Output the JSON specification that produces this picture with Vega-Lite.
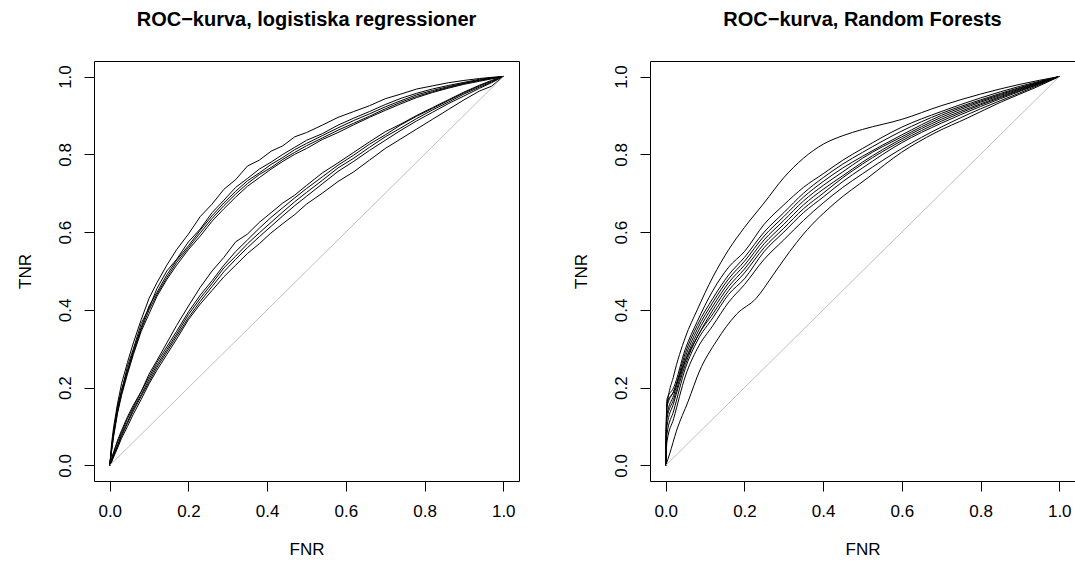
{
"$schema": "https://vega.github.io/schema/vega-lite/v6.json",
"background": "white",
"padding": {"left": 15, "top": 9, "right": 0, "bottom": 0},
"spacing": 131,
"bounds": "flush",
"config": {
  "view": {"stroke": "black", "strokeWidth": 1},
  "font": "Liberation Sans",
  "axis": {"domain": false, "grid": false, "tickColor": "black", "tickSize": 10, "tickWidth": 1, "labelFontSize": 17, "labelColor": "black", "labelFont": "Liberation Sans", "titleFont": "Liberation Sans", "titleFontSize": 17, "titleFontWeight": "normal", "titleColor": "black", "labelFlush": false, "labelOverlap": false},
  "axisX": {"labelPadding": 12, "titlePadding": 22},
  "axisY": {"labelAngle": 270, "labelAlign": "center", "labelBaseline": "bottom", "labelPadding": 10, "titlePadding": 22},
  "title": {"fontSize": 20, "fontWeight": "bold", "font": "Liberation Sans", "color": "black", "anchor": "middle", "offset": 31}
},
"datasets": {
"D": [{"x":0,"y":0},{"x":1,"y":1}],
"L": [
{"c":"U1","x":0,"y":0},{"c":"U1","x":0.005,"y":0.06},{"c":"U1","x":0.01,"y":0.10},{"c":"U1","x":0.02,"y":0.16},{"c":"U1","x":0.03,"y":0.21},{"c":"U1","x":0.045,"y":0.265},{"c":"U1","x":0.06,"y":0.315},{"c":"U1","x":0.08,"y":0.375},{"c":"U1","x":0.10,"y":0.43},{"c":"U1","x":0.12,"y":0.47},{"c":"U1","x":0.145,"y":0.515},{"c":"U1","x":0.17,"y":0.555},{"c":"U1","x":0.20,"y":0.595},{"c":"U1","x":0.23,"y":0.64},{"c":"U1","x":0.26,"y":0.672},{"c":"U1","x":0.29,"y":0.71},{"c":"U1","x":0.32,"y":0.735},{"c":"U1","x":0.35,"y":0.77},{"c":"U1","x":0.38,"y":0.785},{"c":"U1","x":0.41,"y":0.808},{"c":"U1","x":0.44,"y":0.822},{"c":"U1","x":0.47,"y":0.845},{"c":"U1","x":0.50,"y":0.856},{"c":"U1","x":0.54,"y":0.875},{"c":"U1","x":0.58,"y":0.895},{"c":"U1","x":0.62,"y":0.91},{"c":"U1","x":0.66,"y":0.925},{"c":"U1","x":0.70,"y":0.943},{"c":"U1","x":0.74,"y":0.955},{"c":"U1","x":0.78,"y":0.968},{"c":"U1","x":0.82,"y":0.976},{"c":"U1","x":0.86,"y":0.984},{"c":"U1","x":0.90,"y":0.99},{"c":"U1","x":0.94,"y":0.995},{"c":"U1","x":0.97,"y":0.998},{"c":"U1","x":1,"y":1},
{"c":"U2","x":0,"y":0},{"c":"U2","x":0.005,"y":0.05},{"c":"U2","x":0.01,"y":0.085},{"c":"U2","x":0.02,"y":0.155},{"c":"U2","x":0.03,"y":0.19},{"c":"U2","x":0.045,"y":0.255},{"c":"U2","x":0.06,"y":0.30},{"c":"U2","x":0.08,"y":0.365},{"c":"U2","x":0.10,"y":0.405},{"c":"U2","x":0.12,"y":0.455},{"c":"U2","x":0.145,"y":0.50},{"c":"U2","x":0.17,"y":0.53},{"c":"U2","x":0.20,"y":0.575},{"c":"U2","x":0.23,"y":0.608},{"c":"U2","x":0.26,"y":0.65},{"c":"U2","x":0.29,"y":0.682},{"c":"U2","x":0.32,"y":0.715},{"c":"U2","x":0.35,"y":0.738},{"c":"U2","x":0.38,"y":0.762},{"c":"U2","x":0.41,"y":0.78},{"c":"U2","x":0.44,"y":0.80},{"c":"U2","x":0.47,"y":0.818},{"c":"U2","x":0.50,"y":0.836},{"c":"U2","x":0.54,"y":0.853},{"c":"U2","x":0.58,"y":0.875},{"c":"U2","x":0.62,"y":0.893},{"c":"U2","x":0.66,"y":0.91},{"c":"U2","x":0.70,"y":0.928},{"c":"U2","x":0.74,"y":0.944},{"c":"U2","x":0.78,"y":0.957},{"c":"U2","x":0.82,"y":0.968},{"c":"U2","x":0.86,"y":0.977},{"c":"U2","x":0.90,"y":0.985},{"c":"U2","x":0.94,"y":0.993},{"c":"U2","x":0.97,"y":0.997},{"c":"U2","x":1,"y":1},
{"c":"U3","x":0,"y":0},{"c":"U3","x":0.005,"y":0.045},{"c":"U3","x":0.01,"y":0.09},{"c":"U3","x":0.02,"y":0.145},{"c":"U3","x":0.03,"y":0.195},{"c":"U3","x":0.045,"y":0.245},{"c":"U3","x":0.06,"y":0.295},{"c":"U3","x":0.08,"y":0.355},{"c":"U3","x":0.10,"y":0.41},{"c":"U3","x":0.12,"y":0.445},{"c":"U3","x":0.145,"y":0.49},{"c":"U3","x":0.17,"y":0.528},{"c":"U3","x":0.20,"y":0.565},{"c":"U3","x":0.23,"y":0.605},{"c":"U3","x":0.26,"y":0.642},{"c":"U3","x":0.29,"y":0.675},{"c":"U3","x":0.32,"y":0.705},{"c":"U3","x":0.35,"y":0.732},{"c":"U3","x":0.38,"y":0.752},{"c":"U3","x":0.41,"y":0.774},{"c":"U3","x":0.44,"y":0.792},{"c":"U3","x":0.47,"y":0.812},{"c":"U3","x":0.50,"y":0.828},{"c":"U3","x":0.54,"y":0.848},{"c":"U3","x":0.58,"y":0.868},{"c":"U3","x":0.62,"y":0.887},{"c":"U3","x":0.66,"y":0.904},{"c":"U3","x":0.70,"y":0.922},{"c":"U3","x":0.74,"y":0.938},{"c":"U3","x":0.78,"y":0.953},{"c":"U3","x":0.82,"y":0.964},{"c":"U3","x":0.86,"y":0.974},{"c":"U3","x":0.90,"y":0.983},{"c":"U3","x":0.94,"y":0.991},{"c":"U3","x":0.97,"y":0.996},{"c":"U3","x":1,"y":1},
{"c":"U4","x":0,"y":0},{"c":"U4","x":0.005,"y":0.04},{"c":"U4","x":0.01,"y":0.08},{"c":"U4","x":0.02,"y":0.14},{"c":"U4","x":0.03,"y":0.185},{"c":"U4","x":0.045,"y":0.24},{"c":"U4","x":0.06,"y":0.29},{"c":"U4","x":0.08,"y":0.35},{"c":"U4","x":0.10,"y":0.40},{"c":"U4","x":0.12,"y":0.44},{"c":"U4","x":0.145,"y":0.483},{"c":"U4","x":0.17,"y":0.522},{"c":"U4","x":0.20,"y":0.56},{"c":"U4","x":0.23,"y":0.598},{"c":"U4","x":0.26,"y":0.635},{"c":"U4","x":0.29,"y":0.668},{"c":"U4","x":0.32,"y":0.698},{"c":"U4","x":0.35,"y":0.725},{"c":"U4","x":0.38,"y":0.748},{"c":"U4","x":0.41,"y":0.766},{"c":"U4","x":0.44,"y":0.787},{"c":"U4","x":0.47,"y":0.805},{"c":"U4","x":0.50,"y":0.822},{"c":"U4","x":0.54,"y":0.842},{"c":"U4","x":0.58,"y":0.862},{"c":"U4","x":0.62,"y":0.88},{"c":"U4","x":0.66,"y":0.898},{"c":"U4","x":0.70,"y":0.917},{"c":"U4","x":0.74,"y":0.934},{"c":"U4","x":0.78,"y":0.949},{"c":"U4","x":0.82,"y":0.961},{"c":"U4","x":0.86,"y":0.972},{"c":"U4","x":0.90,"y":0.982},{"c":"U4","x":0.94,"y":0.99},{"c":"U4","x":0.97,"y":0.995},{"c":"U4","x":1,"y":1},
{"c":"U5","x":0,"y":0},{"c":"U5","x":0.005,"y":0.04},{"c":"U5","x":0.01,"y":0.075},{"c":"U5","x":0.02,"y":0.135},{"c":"U5","x":0.03,"y":0.18},{"c":"U5","x":0.045,"y":0.235},{"c":"U5","x":0.06,"y":0.285},{"c":"U5","x":0.08,"y":0.345},{"c":"U5","x":0.10,"y":0.39},{"c":"U5","x":0.12,"y":0.435},{"c":"U5","x":0.145,"y":0.478},{"c":"U5","x":0.17,"y":0.515},{"c":"U5","x":0.20,"y":0.555},{"c":"U5","x":0.23,"y":0.59},{"c":"U5","x":0.26,"y":0.628},{"c":"U5","x":0.29,"y":0.66},{"c":"U5","x":0.32,"y":0.69},{"c":"U5","x":0.35,"y":0.718},{"c":"U5","x":0.38,"y":0.74},{"c":"U5","x":0.41,"y":0.762},{"c":"U5","x":0.44,"y":0.782},{"c":"U5","x":0.47,"y":0.80},{"c":"U5","x":0.50,"y":0.815},{"c":"U5","x":0.54,"y":0.838},{"c":"U5","x":0.58,"y":0.856},{"c":"U5","x":0.62,"y":0.876},{"c":"U5","x":0.66,"y":0.895},{"c":"U5","x":0.70,"y":0.913},{"c":"U5","x":0.74,"y":0.93},{"c":"U5","x":0.78,"y":0.946},{"c":"U5","x":0.82,"y":0.959},{"c":"U5","x":0.86,"y":0.97},{"c":"U5","x":0.90,"y":0.98},{"c":"U5","x":0.94,"y":0.988},{"c":"U5","x":0.97,"y":0.994},{"c":"U5","x":1,"y":1},
{"c":"L1","x":0,"y":0},{"c":"L1","x":0.005,"y":0.02},{"c":"L1","x":0.01,"y":0.035},{"c":"L1","x":0.02,"y":0.065},{"c":"L1","x":0.03,"y":0.09},{"c":"L1","x":0.045,"y":0.125},{"c":"L1","x":0.06,"y":0.155},{"c":"L1","x":0.08,"y":0.19},{"c":"L1","x":0.10,"y":0.235},{"c":"L1","x":0.12,"y":0.27},{"c":"L1","x":0.145,"y":0.315},{"c":"L1","x":0.17,"y":0.36},{"c":"L1","x":0.20,"y":0.41},{"c":"L1","x":0.23,"y":0.458},{"c":"L1","x":0.26,"y":0.50},{"c":"L1","x":0.29,"y":0.535},{"c":"L1","x":0.32,"y":0.575},{"c":"L1","x":0.35,"y":0.595},{"c":"L1","x":0.38,"y":0.625},{"c":"L1","x":0.41,"y":0.65},{"c":"L1","x":0.44,"y":0.675},{"c":"L1","x":0.47,"y":0.695},{"c":"L1","x":0.50,"y":0.72},{"c":"L1","x":0.54,"y":0.752},{"c":"L1","x":0.58,"y":0.778},{"c":"L1","x":0.62,"y":0.805},{"c":"L1","x":0.66,"y":0.832},{"c":"L1","x":0.70,"y":0.858},{"c":"L1","x":0.74,"y":0.878},{"c":"L1","x":0.78,"y":0.9},{"c":"L1","x":0.82,"y":0.92},{"c":"L1","x":0.86,"y":0.94},{"c":"L1","x":0.90,"y":0.96},{"c":"L1","x":0.94,"y":0.978},{"c":"L1","x":0.97,"y":0.99},{"c":"L1","x":1,"y":1},
{"c":"L2","x":0,"y":0},{"c":"L2","x":0.005,"y":0.015},{"c":"L2","x":0.01,"y":0.032},{"c":"L2","x":0.02,"y":0.06},{"c":"L2","x":0.03,"y":0.085},{"c":"L2","x":0.045,"y":0.12},{"c":"L2","x":0.06,"y":0.15},{"c":"L2","x":0.08,"y":0.19},{"c":"L2","x":0.10,"y":0.228},{"c":"L2","x":0.12,"y":0.265},{"c":"L2","x":0.145,"y":0.305},{"c":"L2","x":0.17,"y":0.345},{"c":"L2","x":0.20,"y":0.395},{"c":"L2","x":0.23,"y":0.438},{"c":"L2","x":0.26,"y":0.475},{"c":"L2","x":0.29,"y":0.515},{"c":"L2","x":0.32,"y":0.55},{"c":"L2","x":0.35,"y":0.58},{"c":"L2","x":0.38,"y":0.61},{"c":"L2","x":0.41,"y":0.638},{"c":"L2","x":0.44,"y":0.663},{"c":"L2","x":0.47,"y":0.688},{"c":"L2","x":0.50,"y":0.712},{"c":"L2","x":0.54,"y":0.742},{"c":"L2","x":0.58,"y":0.772},{"c":"L2","x":0.62,"y":0.798},{"c":"L2","x":0.66,"y":0.826},{"c":"L2","x":0.70,"y":0.85},{"c":"L2","x":0.74,"y":0.876},{"c":"L2","x":0.78,"y":0.898},{"c":"L2","x":0.82,"y":0.918},{"c":"L2","x":0.86,"y":0.938},{"c":"L2","x":0.90,"y":0.958},{"c":"L2","x":0.94,"y":0.976},{"c":"L2","x":0.97,"y":0.988},{"c":"L2","x":1,"y":1},
{"c":"L3","x":0,"y":0},{"c":"L3","x":0.005,"y":0.012},{"c":"L3","x":0.01,"y":0.028},{"c":"L3","x":0.02,"y":0.052},{"c":"L3","x":0.03,"y":0.08},{"c":"L3","x":0.045,"y":0.112},{"c":"L3","x":0.06,"y":0.145},{"c":"L3","x":0.08,"y":0.182},{"c":"L3","x":0.10,"y":0.222},{"c":"L3","x":0.12,"y":0.258},{"c":"L3","x":0.145,"y":0.298},{"c":"L3","x":0.17,"y":0.338},{"c":"L3","x":0.20,"y":0.388},{"c":"L3","x":0.23,"y":0.43},{"c":"L3","x":0.26,"y":0.468},{"c":"L3","x":0.29,"y":0.508},{"c":"L3","x":0.32,"y":0.538},{"c":"L3","x":0.35,"y":0.57},{"c":"L3","x":0.38,"y":0.598},{"c":"L3","x":0.41,"y":0.625},{"c":"L3","x":0.44,"y":0.652},{"c":"L3","x":0.47,"y":0.678},{"c":"L3","x":0.50,"y":0.702},{"c":"L3","x":0.54,"y":0.733},{"c":"L3","x":0.58,"y":0.765},{"c":"L3","x":0.62,"y":0.79},{"c":"L3","x":0.66,"y":0.818},{"c":"L3","x":0.70,"y":0.845},{"c":"L3","x":0.74,"y":0.868},{"c":"L3","x":0.78,"y":0.892},{"c":"L3","x":0.82,"y":0.914},{"c":"L3","x":0.86,"y":0.934},{"c":"L3","x":0.90,"y":0.955},{"c":"L3","x":0.94,"y":0.973},{"c":"L3","x":0.97,"y":0.986},{"c":"L3","x":1,"y":1},
{"c":"L4","x":0,"y":0},{"c":"L4","x":0.005,"y":0.01},{"c":"L4","x":0.01,"y":0.025},{"c":"L4","x":0.02,"y":0.05},{"c":"L4","x":0.03,"y":0.075},{"c":"L4","x":0.045,"y":0.108},{"c":"L4","x":0.06,"y":0.14},{"c":"L4","x":0.08,"y":0.178},{"c":"L4","x":0.10,"y":0.215},{"c":"L4","x":0.12,"y":0.252},{"c":"L4","x":0.145,"y":0.292},{"c":"L4","x":0.17,"y":0.332},{"c":"L4","x":0.20,"y":0.38},{"c":"L4","x":0.23,"y":0.422},{"c":"L4","x":0.26,"y":0.46},{"c":"L4","x":0.29,"y":0.498},{"c":"L4","x":0.32,"y":0.53},{"c":"L4","x":0.35,"y":0.56},{"c":"L4","x":0.38,"y":0.588},{"c":"L4","x":0.41,"y":0.615},{"c":"L4","x":0.44,"y":0.642},{"c":"L4","x":0.47,"y":0.668},{"c":"L4","x":0.50,"y":0.692},{"c":"L4","x":0.54,"y":0.724},{"c":"L4","x":0.58,"y":0.756},{"c":"L4","x":0.62,"y":0.782},{"c":"L4","x":0.66,"y":0.81},{"c":"L4","x":0.70,"y":0.836},{"c":"L4","x":0.74,"y":0.862},{"c":"L4","x":0.78,"y":0.886},{"c":"L4","x":0.82,"y":0.908},{"c":"L4","x":0.86,"y":0.93},{"c":"L4","x":0.90,"y":0.95},{"c":"L4","x":0.94,"y":0.97},{"c":"L4","x":0.97,"y":0.984},{"c":"L4","x":1,"y":1},
{"c":"L5","x":0,"y":0},{"c":"L5","x":0.005,"y":0.01},{"c":"L5","x":0.01,"y":0.022},{"c":"L5","x":0.02,"y":0.045},{"c":"L5","x":0.03,"y":0.07},{"c":"L5","x":0.045,"y":0.1},{"c":"L5","x":0.06,"y":0.132},{"c":"L5","x":0.08,"y":0.17},{"c":"L5","x":0.10,"y":0.21},{"c":"L5","x":0.12,"y":0.245},{"c":"L5","x":0.145,"y":0.285},{"c":"L5","x":0.17,"y":0.325},{"c":"L5","x":0.20,"y":0.375},{"c":"L5","x":0.23,"y":0.415},{"c":"L5","x":0.26,"y":0.45},{"c":"L5","x":0.29,"y":0.485},{"c":"L5","x":0.32,"y":0.515},{"c":"L5","x":0.35,"y":0.545},{"c":"L5","x":0.38,"y":0.57},{"c":"L5","x":0.41,"y":0.598},{"c":"L5","x":0.44,"y":0.622},{"c":"L5","x":0.47,"y":0.645},{"c":"L5","x":0.50,"y":0.672},{"c":"L5","x":0.54,"y":0.70},{"c":"L5","x":0.58,"y":0.73},{"c":"L5","x":0.62,"y":0.755},{"c":"L5","x":0.66,"y":0.785},{"c":"L5","x":0.70,"y":0.815},{"c":"L5","x":0.74,"y":0.84},{"c":"L5","x":0.78,"y":0.865},{"c":"L5","x":0.82,"y":0.89},{"c":"L5","x":0.86,"y":0.915},{"c":"L5","x":0.90,"y":0.94},{"c":"L5","x":0.94,"y":0.963},{"c":"L5","x":0.97,"y":0.975},{"c":"L5","x":1,"y":1}
],
"R": [
{"c":"R1","x":0,"y":0},{"c":"R1","x":0.003,"y":0.15},{"c":"R1","x":0.02,"y":0.23},{"c":"R1","x":0.05,"y":0.33},{"c":"R1","x":0.08,"y":0.40},{"c":"R1","x":0.12,"y":0.485},{"c":"R1","x":0.16,"y":0.555},{"c":"R1","x":0.2,"y":0.612},{"c":"R1","x":0.25,"y":0.675},{"c":"R1","x":0.3,"y":0.74},{"c":"R1","x":0.35,"y":0.79},{"c":"R1","x":0.4,"y":0.826},{"c":"R1","x":0.45,"y":0.848},{"c":"R1","x":0.5,"y":0.864},{"c":"R1","x":0.6,"y":0.89},{"c":"R1","x":0.7,"y":0.925},{"c":"R1","x":0.8,"y":0.955},{"c":"R1","x":0.9,"y":0.98},{"c":"R1","x":1,"y":1},
{"c":"R2","x":0,"y":0},{"c":"R2","x":0.003,"y":0.17},{"c":"R2","x":0.02,"y":0.20},{"c":"R2","x":0.05,"y":0.30},{"c":"R2","x":0.08,"y":0.37},{"c":"R2","x":0.12,"y":0.45},{"c":"R2","x":0.16,"y":0.51},{"c":"R2","x":0.2,"y":0.55},{"c":"R2","x":0.25,"y":0.62},{"c":"R2","x":0.3,"y":0.67},{"c":"R2","x":0.35,"y":0.715},{"c":"R2","x":0.4,"y":0.75},{"c":"R2","x":0.45,"y":0.785},{"c":"R2","x":0.5,"y":0.815},{"c":"R2","x":0.6,"y":0.87},{"c":"R2","x":0.7,"y":0.91},{"c":"R2","x":0.8,"y":0.945},{"c":"R2","x":0.9,"y":0.975},{"c":"R2","x":1,"y":1},
{"c":"R3","x":0,"y":0},{"c":"R3","x":0.003,"y":0.16},{"c":"R3","x":0.02,"y":0.19},{"c":"R3","x":0.05,"y":0.29},{"c":"R3","x":0.08,"y":0.36},{"c":"R3","x":0.12,"y":0.43},{"c":"R3","x":0.16,"y":0.49},{"c":"R3","x":0.2,"y":0.535},{"c":"R3","x":0.25,"y":0.60},{"c":"R3","x":0.3,"y":0.65},{"c":"R3","x":0.35,"y":0.70},{"c":"R3","x":0.4,"y":0.74},{"c":"R3","x":0.45,"y":0.775},{"c":"R3","x":0.5,"y":0.805},{"c":"R3","x":0.6,"y":0.86},{"c":"R3","x":0.7,"y":0.905},{"c":"R3","x":0.8,"y":0.94},{"c":"R3","x":0.9,"y":0.972},{"c":"R3","x":1,"y":1},
{"c":"R4","x":0,"y":0},{"c":"R4","x":0.003,"y":0.13},{"c":"R4","x":0.02,"y":0.18},{"c":"R4","x":0.05,"y":0.28},{"c":"R4","x":0.08,"y":0.35},{"c":"R4","x":0.12,"y":0.42},{"c":"R4","x":0.16,"y":0.48},{"c":"R4","x":0.2,"y":0.525},{"c":"R4","x":0.25,"y":0.59},{"c":"R4","x":0.3,"y":0.64},{"c":"R4","x":0.35,"y":0.69},{"c":"R4","x":0.4,"y":0.73},{"c":"R4","x":0.45,"y":0.765},{"c":"R4","x":0.5,"y":0.795},{"c":"R4","x":0.6,"y":0.85},{"c":"R4","x":0.7,"y":0.90},{"c":"R4","x":0.8,"y":0.937},{"c":"R4","x":0.9,"y":0.97},{"c":"R4","x":1,"y":1},
{"c":"R5","x":0,"y":0},{"c":"R5","x":0.003,"y":0.12},{"c":"R5","x":0.02,"y":0.17},{"c":"R5","x":0.05,"y":0.27},{"c":"R5","x":0.08,"y":0.34},{"c":"R5","x":0.12,"y":0.41},{"c":"R5","x":0.16,"y":0.47},{"c":"R5","x":0.2,"y":0.515},{"c":"R5","x":0.25,"y":0.58},{"c":"R5","x":0.3,"y":0.63},{"c":"R5","x":0.35,"y":0.68},{"c":"R5","x":0.4,"y":0.72},{"c":"R5","x":0.45,"y":0.755},{"c":"R5","x":0.5,"y":0.79},{"c":"R5","x":0.6,"y":0.845},{"c":"R5","x":0.7,"y":0.895},{"c":"R5","x":0.8,"y":0.934},{"c":"R5","x":0.9,"y":0.968},{"c":"R5","x":1,"y":1},
{"c":"R6","x":0,"y":0},{"c":"R6","x":0.003,"y":0.15},{"c":"R6","x":0.02,"y":0.19},{"c":"R6","x":0.05,"y":0.27},{"c":"R6","x":0.08,"y":0.33},{"c":"R6","x":0.12,"y":0.40},{"c":"R6","x":0.16,"y":0.46},{"c":"R6","x":0.2,"y":0.505},{"c":"R6","x":0.25,"y":0.57},{"c":"R6","x":0.3,"y":0.62},{"c":"R6","x":0.35,"y":0.67},{"c":"R6","x":0.4,"y":0.71},{"c":"R6","x":0.45,"y":0.745},{"c":"R6","x":0.5,"y":0.78},{"c":"R6","x":0.6,"y":0.84},{"c":"R6","x":0.7,"y":0.89},{"c":"R6","x":0.8,"y":0.93},{"c":"R6","x":0.9,"y":0.966},{"c":"R6","x":1,"y":1},
{"c":"R7","x":0,"y":0},{"c":"R7","x":0.003,"y":0.10},{"c":"R7","x":0.02,"y":0.16},{"c":"R7","x":0.05,"y":0.26},{"c":"R7","x":0.08,"y":0.33},{"c":"R7","x":0.12,"y":0.39},{"c":"R7","x":0.16,"y":0.45},{"c":"R7","x":0.2,"y":0.495},{"c":"R7","x":0.25,"y":0.56},{"c":"R7","x":0.3,"y":0.61},{"c":"R7","x":0.35,"y":0.66},{"c":"R7","x":0.4,"y":0.70},{"c":"R7","x":0.45,"y":0.74},{"c":"R7","x":0.5,"y":0.775},{"c":"R7","x":0.6,"y":0.835},{"c":"R7","x":0.7,"y":0.885},{"c":"R7","x":0.8,"y":0.927},{"c":"R7","x":0.9,"y":0.964},{"c":"R7","x":1,"y":1},
{"c":"R8","x":0,"y":0},{"c":"R8","x":0.003,"y":0.08},{"c":"R8","x":0.02,"y":0.14},{"c":"R8","x":0.05,"y":0.25},{"c":"R8","x":0.08,"y":0.32},{"c":"R8","x":0.12,"y":0.38},{"c":"R8","x":0.16,"y":0.44},{"c":"R8","x":0.2,"y":0.48},{"c":"R8","x":0.25,"y":0.55},{"c":"R8","x":0.3,"y":0.60},{"c":"R8","x":0.35,"y":0.65},{"c":"R8","x":0.4,"y":0.69},{"c":"R8","x":0.45,"y":0.73},{"c":"R8","x":0.5,"y":0.765},{"c":"R8","x":0.6,"y":0.83},{"c":"R8","x":0.7,"y":0.88},{"c":"R8","x":0.8,"y":0.923},{"c":"R8","x":0.9,"y":0.962},{"c":"R8","x":1,"y":1},
{"c":"R9","x":0,"y":0},{"c":"R9","x":0.003,"y":0.06},{"c":"R9","x":0.02,"y":0.12},{"c":"R9","x":0.05,"y":0.23},{"c":"R9","x":0.08,"y":0.30},{"c":"R9","x":0.12,"y":0.36},{"c":"R9","x":0.16,"y":0.42},{"c":"R9","x":0.2,"y":0.465},{"c":"R9","x":0.25,"y":0.53},{"c":"R9","x":0.3,"y":0.58},{"c":"R9","x":0.35,"y":0.63},{"c":"R9","x":0.4,"y":0.675},{"c":"R9","x":0.45,"y":0.715},{"c":"R9","x":0.5,"y":0.75},{"c":"R9","x":0.6,"y":0.815},{"c":"R9","x":0.7,"y":0.87},{"c":"R9","x":0.8,"y":0.917},{"c":"R9","x":0.9,"y":0.958},{"c":"R9","x":1,"y":1},
{"c":"R10","x":0,"y":0},{"c":"R10","x":0.01,"y":0.03},{"c":"R10","x":0.027,"y":0.088},{"c":"R10","x":0.057,"y":0.165},{"c":"R10","x":0.086,"y":0.243},{"c":"R10","x":0.129,"y":0.32},{"c":"R10","x":0.18,"y":0.389},{"c":"R10","x":0.23,"y":0.43},{"c":"R10","x":0.273,"y":0.49},{"c":"R10","x":0.315,"y":0.55},{"c":"R10","x":0.35,"y":0.595},{"c":"R10","x":0.43,"y":0.675},{"c":"R10","x":0.514,"y":0.74},{"c":"R10","x":0.599,"y":0.805},{"c":"R10","x":0.684,"y":0.855},{"c":"R10","x":0.768,"y":0.894},{"c":"R10","x":0.853,"y":0.935},{"c":"R10","x":0.938,"y":0.971},{"c":"R10","x":1,"y":1}
]
},
"hconcat": [
{
  "width": 425, "height": 420,
  "title": {"text": "ROC−kurva, logistiska regressioner"},
  "layer": [
    {"data": {"name": "L"}, "mark": {"type": "line", "color": "black", "strokeWidth": 1},
     "encoding": {
       "x": {"field": "x", "type": "quantitative", "scale": {"domain": [-0.04, 1.04], "nice": false, "zero": false}, "axis": {"title": "FNR", "values": [0, 0.2, 0.4, 0.6, 0.8, 1], "format": ".1f"}},
       "y": {"field": "y", "type": "quantitative", "scale": {"domain": [-0.04, 1.04], "nice": false, "zero": false}, "axis": {"title": "TNR", "values": [0, 0.2, 0.4, 0.6, 0.8, 1], "format": ".1f"}},
       "detail": {"field": "c", "type": "nominal"}}},
    {"data": {"name": "D"}, "mark": {"type": "line", "color": "#bebebe", "strokeWidth": 1},
     "encoding": {"x": {"field": "x", "type": "quantitative"}, "y": {"field": "y", "type": "quantitative"}}}
  ]
},
{
  "width": 425, "height": 420,
  "title": {"text": "ROC−kurva, Random Forests"},
  "layer": [
    {"data": {"name": "R"}, "mark": {"type": "line", "color": "black", "strokeWidth": 1, "interpolate": "monotone"},
     "encoding": {
       "x": {"field": "x", "type": "quantitative", "scale": {"domain": [-0.04, 1.04], "nice": false, "zero": false}, "axis": {"title": "FNR", "values": [0, 0.2, 0.4, 0.6, 0.8, 1], "format": ".1f"}},
       "y": {"field": "y", "type": "quantitative", "scale": {"domain": [-0.04, 1.04], "nice": false, "zero": false}, "axis": {"title": "TNR", "values": [0, 0.2, 0.4, 0.6, 0.8, 1], "format": ".1f"}},
       "detail": {"field": "c", "type": "nominal"}}},
    {"data": {"name": "D"}, "mark": {"type": "line", "color": "#bebebe", "strokeWidth": 1},
     "encoding": {"x": {"field": "x", "type": "quantitative"}, "y": {"field": "y", "type": "quantitative"}}}
  ]
}
]
}
